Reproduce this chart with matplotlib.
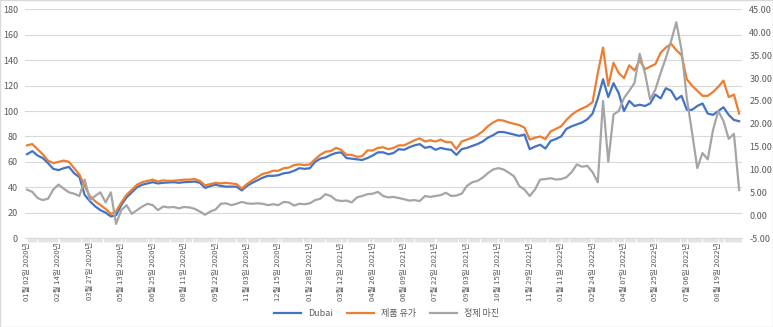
import numpy as np
import matplotlib
matplotlib.use("Agg")
import matplotlib.pyplot as plt
from matplotlib.patches import Rectangle

plt.rcParams['font.family'] = ['Noto Sans CJK KR', 'DejaVu Sans']
plt.rcParams['axes.unicode_minus'] = False

# 거래일 인덱스 (5일 간격으로 읽은 값)
idx = np.arange(0, 681, 5)

# 눈금에 표시되는 날짜 (30 거래일 간격)
tick_labels = ["01월 02일 2020년", "02월 14일 2020년", "03월 27일 2020년", "05월 13일 2020년",
               "06월 25일 2020년", "08월 11일 2020년", "09월 22일 2020년", "11월 03일 2020년",
               "12월 15일 2020년", "01월 28일 2021년", "03월 12일 2021년", "04월 26일 2021년",
               "06월 09일 2021년", "07월 22일 2021년", "09월 03일 2021년", "10월 15일 2021년",
               "11월 29일 2021년", "01월 11일 2022년", "02월 24일 2022년", "04월 07일 2022년",
               "05월 25일 2022년", "07월 06일 2022년", "08월 19일 2022년"]

dubai = [66, 68.5, 65, 63, 59, 54.5, 53.5, 55, 56, 51, 48, 34, 29, 25, 22, 20, 17, 18, 26, 32,
         36, 40, 42, 43, 44, 43, 43.5, 43.8, 44, 43.5, 44, 44.2, 44.5, 43.5, 39.5, 41, 42, 41, 40.5, 40.5,
         40.5, 37.5, 41, 43.5, 45.5, 47.5, 49, 49, 49.5, 51, 51.5, 53, 55, 54.5, 55, 60, 62.5, 63.5, 65.5, 67,
         67.5, 63, 62.5, 62, 61.5, 63, 65, 67.5, 67.5, 66, 67, 70, 69.5, 71.5, 73, 74, 71, 72, 69.5, 71,
         70, 69.5, 65.5, 70, 71, 72.5, 74, 76, 79, 81, 83.5, 83.5, 82.5, 81.5, 80.5, 81.5, 70, 72, 73.5, 70.5,
         76.5, 78, 80, 86, 88, 89.5, 91, 93.5, 98, 110, 125, 111, 122, 114, 100, 108, 104, 105, 104, 106,
         113, 110, 118, 116, 109, 112, 101, 101, 104, 106, 98, 97, 100, 103, 97, 93, 92]

product = [73, 74, 70, 66, 61, 59, 60, 61, 60, 55, 50, 41, 33, 29, 26, 23, 19, 21, 28, 34,
           38, 42, 44, 45, 46, 44.5, 45.5, 45, 45.2, 45.5, 46, 46, 46.5, 45, 41.5, 42.5, 43.5, 43, 43.5, 43,
           42.5, 39, 42.5, 45.5, 48, 50.5, 51.5, 53, 53, 55, 55.5, 57.5, 58, 57.5, 58, 62, 65.5, 68, 68.5, 71,
           69.5, 65.5, 65.5, 64, 64.5, 69, 69, 71, 71.5, 70, 71, 73, 73, 75, 77, 78.5, 76, 77, 76, 77.5,
           75.5, 75.5, 70, 76, 77.5, 79, 81, 84, 88, 91, 93, 92.5, 91, 90, 89, 87, 77.5, 79, 80, 78,
           84, 86, 88, 93, 97, 100, 102, 104, 107, 130, 150, 120, 138, 130, 126, 136, 132, 140, 133, 135,
           137, 146, 150, 153, 148, 144, 125, 120, 116, 112, 112, 115, 119, 124, 111, 113, 98]

margin = [5.6, 5.1, 3.75, 3.3, 3.6, 5.6, 6.7, 5.8, 5.0, 4.7, 4.2, 7.8, 3.3, 4.2, 5.0, 2.8, 5.0, -1.9, 1.1, 2.2,
          0.3, 1.1, 1.9, 2.5, 2.2, 1.1, 1.9, 1.7, 1.8, 1.5, 1.8, 1.7, 1.4, 0.8, 0.1, 0.8, 1.25, 2.5, 2.6, 2.2,
          2.5, 2.9, 2.6, 2.5, 2.6, 2.5, 2.2, 2.4, 2.2, 2.9, 2.8, 2.1, 2.5, 2.4, 2.6, 3.3, 3.6, 4.6, 4.2, 3.3,
          3.1, 3.2, 2.8, 3.9, 4.2, 4.6, 4.7, 5.1, 4.2, 3.9, 4.0, 3.75, 3.5, 3.2, 3.3, 3.1, 4.2, 4.0, 4.2, 4.4,
          4.9, 4.2, 4.3, 4.7, 6.4, 7.2, 7.5, 8.2, 9.2, 10.0, 10.3, 10.0, 9.3, 8.5, 6.4, 5.6, 4.2, 5.6, 7.8, 7.9,
          8.1, 7.8, 7.9, 8.3, 9.4, 11.1, 10.6, 10.8, 9.4, 7.2, 25.0, 11.7, 22.0, 22.8, 25.6, 27.2, 28.9, 35.3, 31.1, 25.3,
          27.5, 31.1, 34.4, 38.1, 42.2, 36.1, 25.6, 18.1, 10.3, 13.6, 12.2, 18.6, 22.8, 20.6, 16.7, 17.8, 5.5]

fig = plt.figure(figsize=(7.73, 3.27), dpi=100)
ax = fig.add_axes([0.0323, 0.272, 0.928, 0.699])
ax2 = ax.twinx()

ax.plot(idx, dubai, color='#4472C4', lw=1.6, label='Dubai')
ax.plot(idx, product, color='#ED7D31', lw=1.6, label='제품 유가')
ax2.plot(idx, margin, color='#A5A5A5', lw=1.6, label='정제 마진')

ax.set_xlim(-2, 683)
ax.set_ylim(0, 180)
ax.set_yticks(np.arange(0, 181, 20))
ax2.set_ylim(-5, 45)
ax2.set_yticks(np.arange(-5, 46, 5))
ax2.set_yticklabels([f"{v:.2f}" for v in np.arange(-5, 46, 5)])

ax.set_xticks(np.arange(0, 30 * len(tick_labels), 30))
ax.set_xticklabels(tick_labels, rotation=90, fontsize=5.5)
ax.set_xticks(np.arange(0, 683, 1), minor=True)

ax.grid(axis='y', color='#D9D9D9', lw=0.8)
ax.set_axisbelow(True)
for a in (ax, ax2):
    for s in a.spines.values():
        s.set_visible(False)
ax.spines['bottom'].set_visible(True)
ax.spines['bottom'].set_color('#D9D9D9')

ax.tick_params(axis='y', length=0, labelsize=6.5, colors='#595959', pad=5)
ax2.tick_params(axis='y', length=0, labelsize=6.5, colors='#595959', pad=5)
ax.tick_params(axis='x', which='major', length=0, colors='#595959', pad=3)
ax.tick_params(axis='x', which='minor', length=3, width=0.5, color='#D9D9D9')

h1, l1 = ax.get_legend_handles_labels()
h2, l2 = ax2.get_legend_handles_labels()
fig.legend(h1 + h2, l1 + l2, loc='center', bbox_to_anchor=(0.5, 0.04), ncol=3,
           frameon=False, fontsize=6.5, handlelength=3, columnspacing=1.5,
           labelcolor='#595959')

fig.patches.append(Rectangle((0, 0), 1, 1, transform=fig.transFigure, fill=False,
                             edgecolor='#D9D9D9', lw=1))

fig.savefig('out.png', dpi=100)
